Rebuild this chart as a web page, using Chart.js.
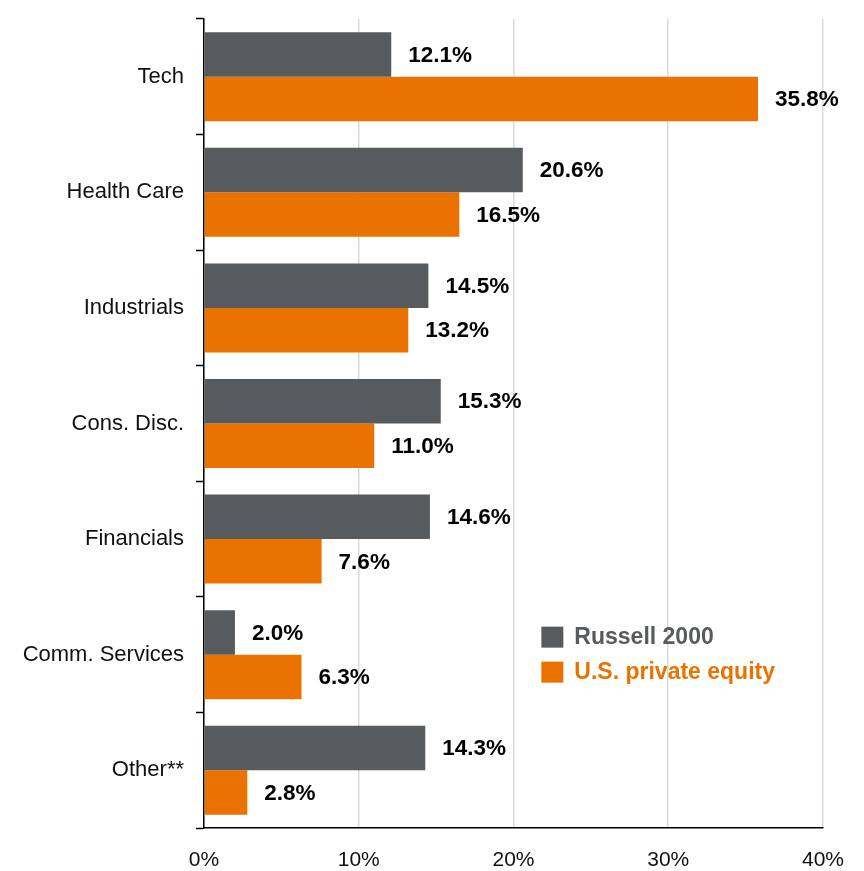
<!DOCTYPE html>
<html>
<head>
<meta charset="utf-8">
<script src="https://cdn.jsdelivr.net/npm/chart.js@4/dist/chart.umd.min.js"></script>
<style>
  html, body { margin: 0; padding: 0; background: #ffffff; }
  #wrap { width: 864px; height: 871px; position: relative; }
</style>
</head>
<body>
<div id="wrap"><canvas id="c" width="864" height="871"></canvas></div>
<script>
const categories = ["Tech", "Health Care", "Industrials", "Cons. Disc.", "Financials", "Comm. Services", "Other**"];
const russell2000 = [12.1, 20.6, 14.5, 15.3, 14.6, 2.0, 14.3];
const privateEquity = [35.8, 16.5, 13.2, 11.0, 7.6, 6.3, 2.8];
const seriesNames = ["Russell 2000", "U.S. private equity"];
const xTicks = [0, 10, 20, 30, 40];

const GRAY = "rgb(88,91,94)";
const ORANGE = "rgb(234,115,0)";
const FONT = 'Arial, "Liberation Sans", sans-serif';

const valueLabels = {
  id: "valueLabels",
  afterDatasetsDraw(chart) {
    const ctx = chart.ctx;
    ctx.save();
    ctx.font = "bold 22.5px " + FONT;
    ctx.fillStyle = "#000000";
    ctx.textAlign = "left";
    ctx.textBaseline = "middle";
    chart.data.datasets.forEach((ds, di) => {
      const meta = chart.getDatasetMeta(di);
      meta.data.forEach((bar, i) => {
        ctx.fillText(ds.data[i].toFixed(1) + "%", bar.x + 17, bar.y + 1);
      });
    });
    ctx.restore();
  }
};

const innerLegend = {
  id: "innerLegend",
  afterDraw(chart) {
    const ctx = chart.ctx;
    const xs = chart.scales.x;
    const ys = chart.scales.y;
    const x0 = xs.getPixelForValue(21.8);
    const yTop = ys.getPixelForValue(5) - 18;
    ctx.save();
    ctx.font = "bold 23px " + FONT;
    ctx.textBaseline = "middle";
    ctx.textAlign = "left";
    chart.data.datasets.forEach((ds, i) => {
      const cy = yTop + i * 35;
      ctx.fillStyle = ds.backgroundColor;
      ctx.fillRect(x0, cy - 10, 22, 21);
      ctx.fillText(ds.label, x0 + 33, cy + 1);
    });
    ctx.restore();
  }
};

new Chart(document.getElementById("c"), {
  type: "bar",
  data: {
    labels: categories,
    datasets: [
      { label: seriesNames[0], data: russell2000, backgroundColor: GRAY },
      { label: seriesNames[1], data: privateEquity, backgroundColor: ORANGE }
    ]
  },
  options: {
    indexAxis: "y",
    responsive: false,
    animation: false,
    devicePixelRatio: 1,
    layout: { padding: { top: 19, right: 40, left: 0, bottom: 0 } },
    datasets: { bar: { categoryPercentage: 0.77, barPercentage: 1.0 } },
    plugins: {
      legend: { display: false },
      tooltip: { enabled: false }
    },
    scales: {
      x: {
        min: 0, max: 40,
        afterBuildTicks(scale) { scale.ticks = xTicks.map(v => ({ value: v })); },
        afterFit(scale) { scale.height = 43; },
        ticks: {
          padding: 20,
          color: "#111111",
          font: { family: FONT, size: 21 },
          callback: v => v + "%",
          maxRotation: 0
        },
        grid: { color: "#d9d9d9", lineWidth: 1.5, drawTicks: false },
        border: { color: "#000000", width: 1.5 }
      },
      y: {
        afterFit(scale) { scale.width = 204; scale.paddingTop = 0; scale.paddingBottom = 0; },
        ticks: {
          padding: 12,
          color: "#111111",
          font: { family: FONT, size: 22 }
        },
        grid: {
          offset: true,
          drawOnChartArea: false,
          drawTicks: true,
          tickLength: 8,
          tickColor: "#000000",
          tickWidth: 1.5
        },
        border: { color: "#000000", width: 1.5 }
      }
    }
  },
  plugins: [valueLabels, innerLegend]
});
</script>
</body>
</html>
